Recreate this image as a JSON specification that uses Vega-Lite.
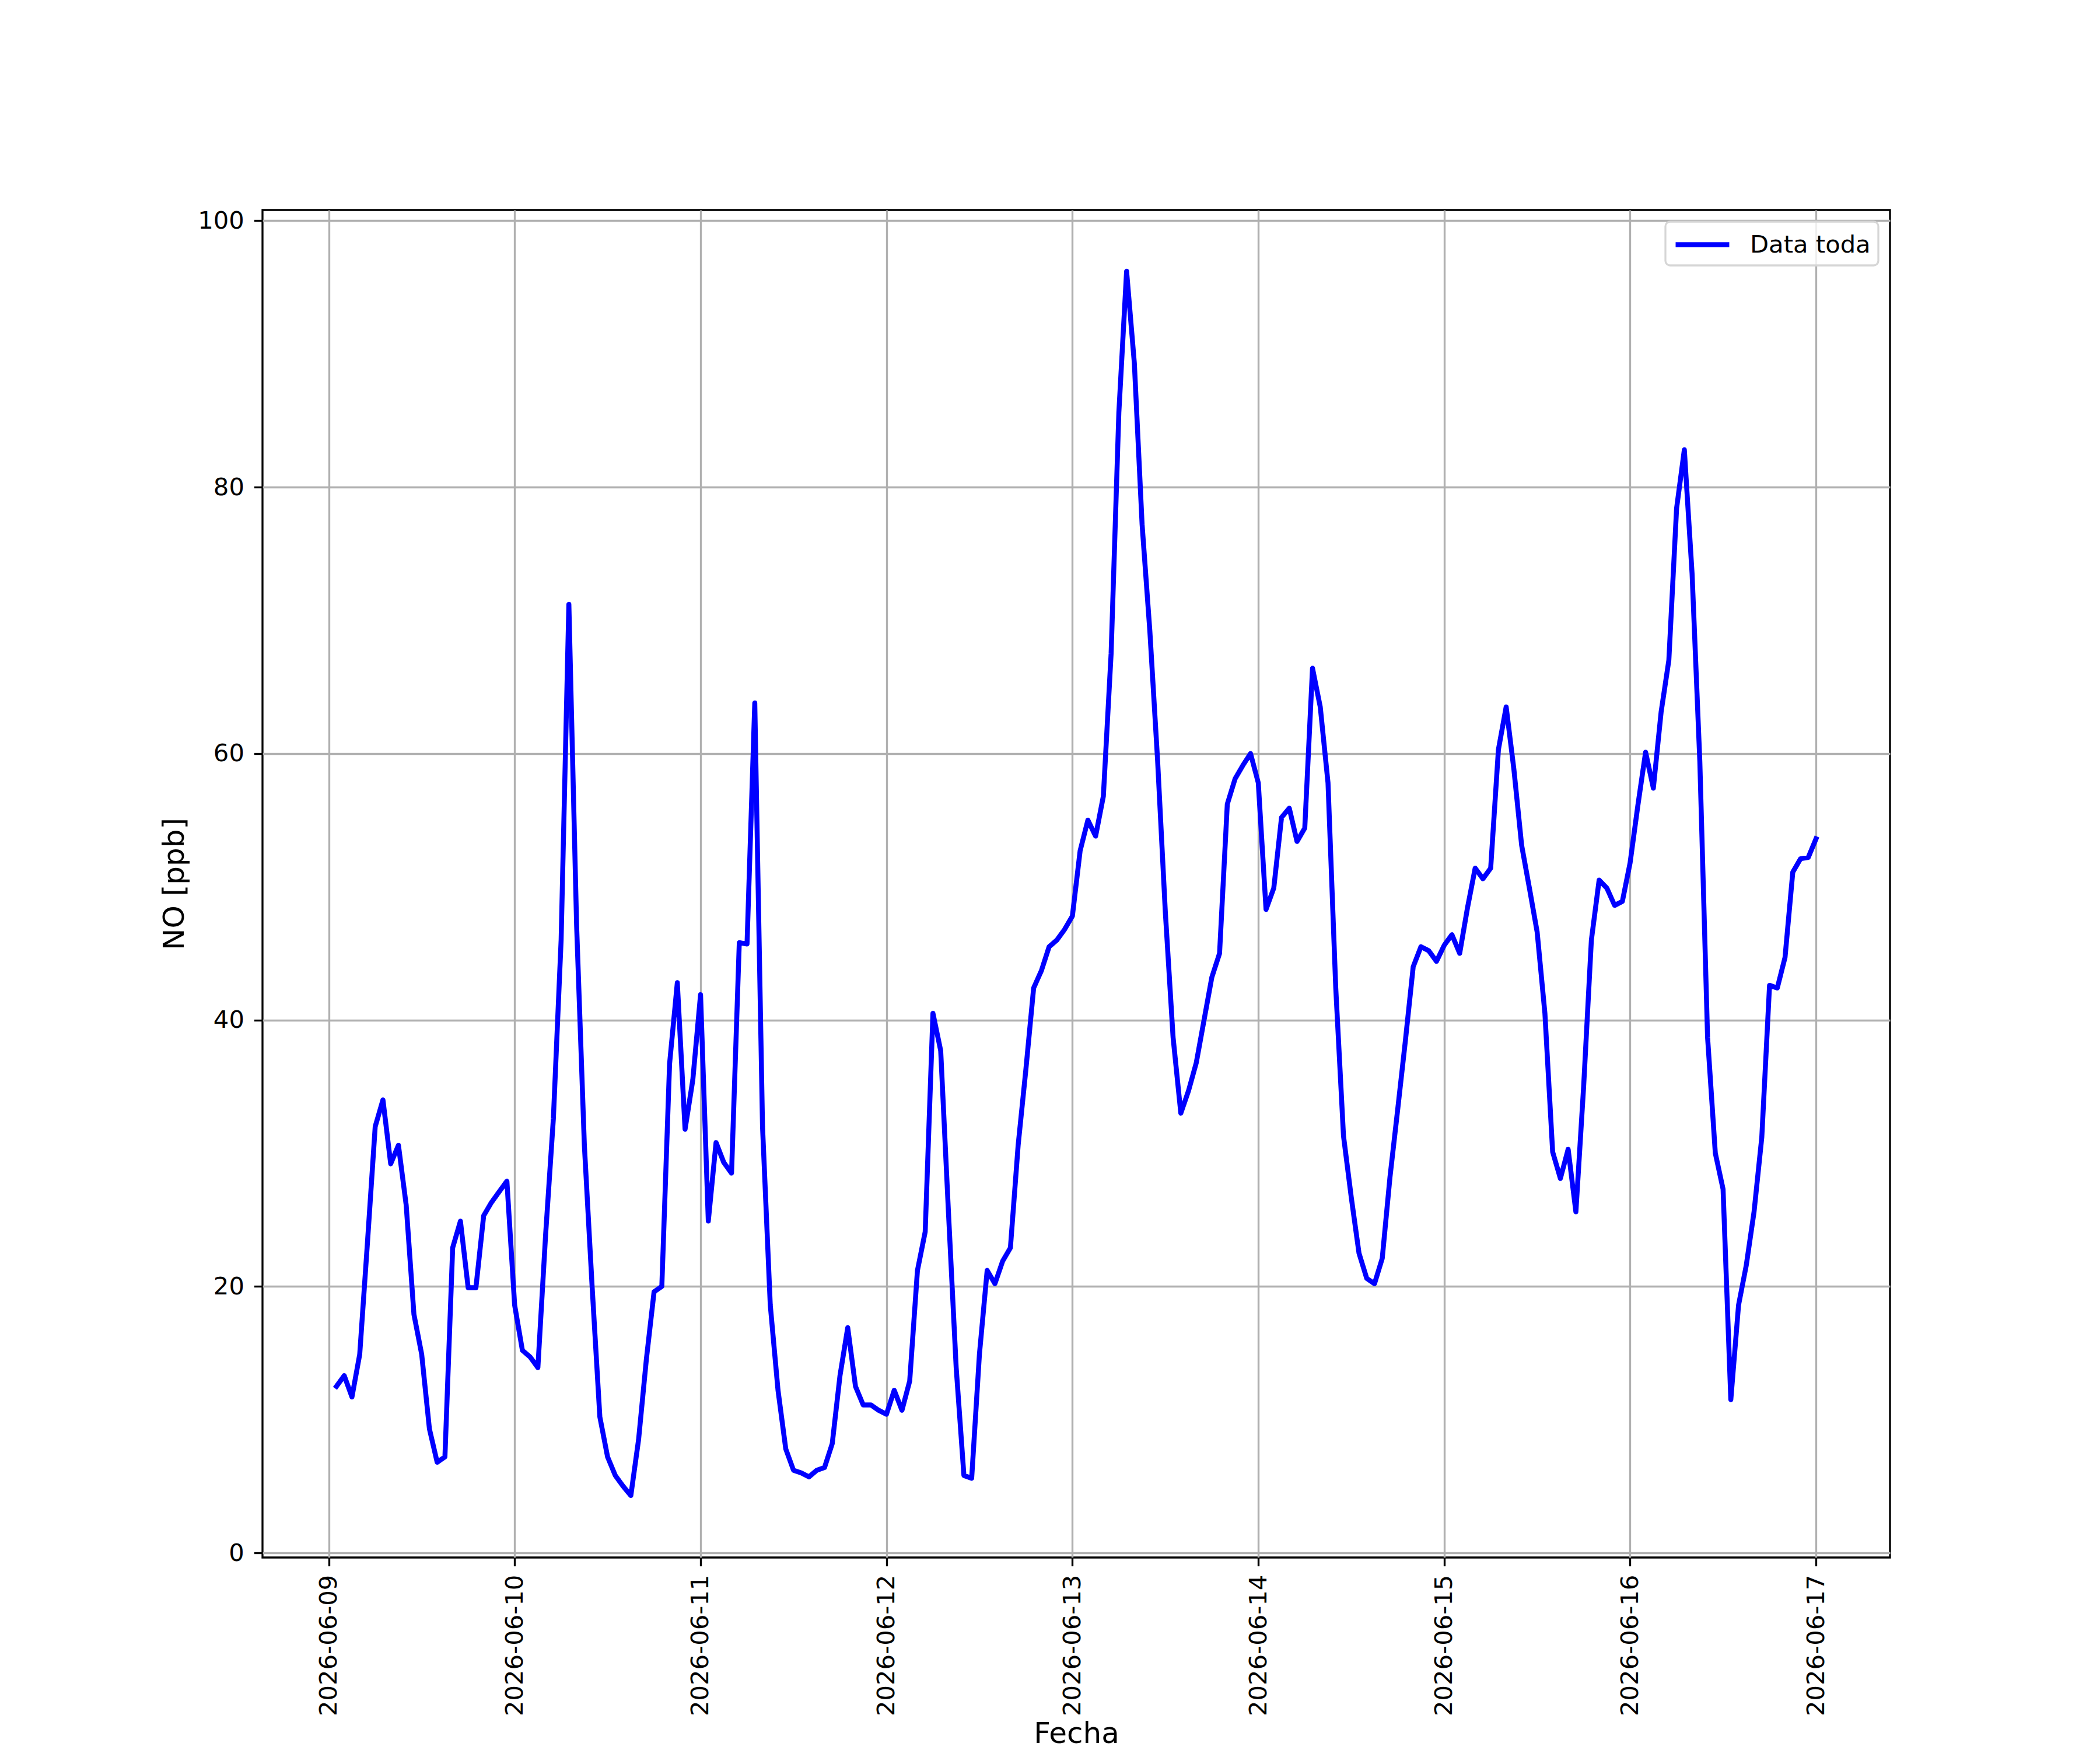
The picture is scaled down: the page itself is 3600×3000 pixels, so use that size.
{
  "$schema": "https://vega.github.io/schema/vega-lite/v6.json",
  "autosize": {"type": "none"},
  "padding": {"left": 450, "top": 360, "right": 360, "bottom": 330},
  "width": 2790,
  "height": 2310,
  "background": "white",
  "config": {
    "font": "DejaVu Sans",
    "view": {"stroke": "black", "strokeWidth": 3.33},
    "axis": {
      "labelFont": "DejaVu Sans",
      "labelFontSize": 41.7,
      "labelColor": "black",
      "labelLimit": 2000,
      "titleFont": "DejaVu Sans",
      "titleFontSize": 50,
      "titleFontWeight": "normal",
      "titleColor": "black",
      "tickSize": 14.6,
      "tickWidth": 3.33,
      "tickColor": "black",
      "labelPadding": 14.6,
      "domain": false,
      "grid": true,
      "gridColor": "#b0b0b0",
      "gridWidth": 3.33
    },
    "legend": {
      "orient": "top-right",
      "offset": 20,
      "title": null,
      "labelFont": "DejaVu Sans",
      "labelFontSize": 41.7,
      "labelColor": "black",
      "labelLimit": 2000,
      "padding": 13,
      "fillColor": "rgba(255,255,255,0.8)",
      "strokeColor": "#d6d6d6",
      "strokeWidth": 3.3,
      "cornerRadius": 8,
      "symbolType": "M-1,0H3.18",
      "symbolSize": 1936,
      "symbolStrokeWidth": 8.5,
      "labelOffset": 79
    }
  },
  "data": {
    "values": [
      {"t": "2026-06-09T01:00:00", "v": 12.5},
      {"t": "2026-06-09T02:00:00", "v": 13.3},
      {"t": "2026-06-09T03:00:00", "v": 11.7},
      {"t": "2026-06-09T04:00:00", "v": 14.9},
      {"t": "2026-06-09T05:00:00", "v": 23.3},
      {"t": "2026-06-09T06:00:00", "v": 32.0},
      {"t": "2026-06-09T07:00:00", "v": 34.0},
      {"t": "2026-06-09T08:00:00", "v": 29.2},
      {"t": "2026-06-09T09:00:00", "v": 30.6},
      {"t": "2026-06-09T10:00:00", "v": 26.1},
      {"t": "2026-06-09T11:00:00", "v": 17.9},
      {"t": "2026-06-09T12:00:00", "v": 14.9},
      {"t": "2026-06-09T13:00:00", "v": 9.3},
      {"t": "2026-06-09T14:00:00", "v": 6.8},
      {"t": "2026-06-09T15:00:00", "v": 7.2},
      {"t": "2026-06-09T16:00:00", "v": 22.9},
      {"t": "2026-06-09T17:00:00", "v": 24.9},
      {"t": "2026-06-09T18:00:00", "v": 19.9},
      {"t": "2026-06-09T19:00:00", "v": 19.9},
      {"t": "2026-06-09T20:00:00", "v": 25.3},
      {"t": "2026-06-09T21:00:00", "v": 26.3},
      {"t": "2026-06-09T22:00:00", "v": 27.1},
      {"t": "2026-06-09T23:00:00", "v": 27.9},
      {"t": "2026-06-10T00:00:00", "v": 18.6},
      {"t": "2026-06-10T01:00:00", "v": 15.2},
      {"t": "2026-06-10T02:00:00", "v": 14.7},
      {"t": "2026-06-10T03:00:00", "v": 13.9},
      {"t": "2026-06-10T04:00:00", "v": 23.9},
      {"t": "2026-06-10T05:00:00", "v": 32.6},
      {"t": "2026-06-10T06:00:00", "v": 46.0},
      {"t": "2026-06-10T07:00:00", "v": 71.2},
      {"t": "2026-06-10T08:00:00", "v": 47.1},
      {"t": "2026-06-10T09:00:00", "v": 30.6},
      {"t": "2026-06-10T10:00:00", "v": 20.0},
      {"t": "2026-06-10T11:00:00", "v": 10.2},
      {"t": "2026-06-10T12:00:00", "v": 7.2},
      {"t": "2026-06-10T13:00:00", "v": 5.8},
      {"t": "2026-06-10T14:00:00", "v": 5.0},
      {"t": "2026-06-10T15:00:00", "v": 4.3},
      {"t": "2026-06-10T16:00:00", "v": 8.5},
      {"t": "2026-06-10T17:00:00", "v": 14.5},
      {"t": "2026-06-10T18:00:00", "v": 19.6},
      {"t": "2026-06-10T19:00:00", "v": 20.0},
      {"t": "2026-06-10T20:00:00", "v": 36.7},
      {"t": "2026-06-10T21:00:00", "v": 42.8},
      {"t": "2026-06-10T22:00:00", "v": 31.8},
      {"t": "2026-06-10T23:00:00", "v": 35.5},
      {"t": "2026-06-11T00:00:00", "v": 41.9},
      {"t": "2026-06-11T01:00:00", "v": 24.9},
      {"t": "2026-06-11T02:00:00", "v": 30.8},
      {"t": "2026-06-11T03:00:00", "v": 29.3},
      {"t": "2026-06-11T04:00:00", "v": 28.5},
      {"t": "2026-06-11T05:00:00", "v": 45.8},
      {"t": "2026-06-11T06:00:00", "v": 45.7},
      {"t": "2026-06-11T07:00:00", "v": 63.8},
      {"t": "2026-06-11T08:00:00", "v": 32.0},
      {"t": "2026-06-11T09:00:00", "v": 18.6},
      {"t": "2026-06-11T10:00:00", "v": 12.2},
      {"t": "2026-06-11T11:00:00", "v": 7.8},
      {"t": "2026-06-11T12:00:00", "v": 6.2},
      {"t": "2026-06-11T13:00:00", "v": 6.0},
      {"t": "2026-06-11T14:00:00", "v": 5.7},
      {"t": "2026-06-11T15:00:00", "v": 6.2},
      {"t": "2026-06-11T16:00:00", "v": 6.4},
      {"t": "2026-06-11T17:00:00", "v": 8.2},
      {"t": "2026-06-11T18:00:00", "v": 13.3},
      {"t": "2026-06-11T19:00:00", "v": 16.9},
      {"t": "2026-06-11T20:00:00", "v": 12.5},
      {"t": "2026-06-11T21:00:00", "v": 11.1},
      {"t": "2026-06-11T22:00:00", "v": 11.1},
      {"t": "2026-06-11T23:00:00", "v": 10.7},
      {"t": "2026-06-12T00:00:00", "v": 10.4},
      {"t": "2026-06-12T01:00:00", "v": 12.2},
      {"t": "2026-06-12T02:00:00", "v": 10.7},
      {"t": "2026-06-12T03:00:00", "v": 12.9},
      {"t": "2026-06-12T04:00:00", "v": 21.2},
      {"t": "2026-06-12T05:00:00", "v": 24.1},
      {"t": "2026-06-12T06:00:00", "v": 40.5},
      {"t": "2026-06-12T07:00:00", "v": 37.7},
      {"t": "2026-06-12T08:00:00", "v": 25.6},
      {"t": "2026-06-12T09:00:00", "v": 13.9},
      {"t": "2026-06-12T10:00:00", "v": 5.8},
      {"t": "2026-06-12T11:00:00", "v": 5.6},
      {"t": "2026-06-12T12:00:00", "v": 14.9},
      {"t": "2026-06-12T13:00:00", "v": 21.2},
      {"t": "2026-06-12T14:00:00", "v": 20.2},
      {"t": "2026-06-12T15:00:00", "v": 21.9},
      {"t": "2026-06-12T16:00:00", "v": 22.9},
      {"t": "2026-06-12T17:00:00", "v": 30.6},
      {"t": "2026-06-12T18:00:00", "v": 36.3},
      {"t": "2026-06-12T19:00:00", "v": 42.4},
      {"t": "2026-06-12T20:00:00", "v": 43.7},
      {"t": "2026-06-12T21:00:00", "v": 45.5},
      {"t": "2026-06-12T22:00:00", "v": 46.0},
      {"t": "2026-06-12T23:00:00", "v": 46.8},
      {"t": "2026-06-13T00:00:00", "v": 47.8},
      {"t": "2026-06-13T01:00:00", "v": 52.7},
      {"t": "2026-06-13T02:00:00", "v": 55.0},
      {"t": "2026-06-13T03:00:00", "v": 53.8},
      {"t": "2026-06-13T04:00:00", "v": 56.8},
      {"t": "2026-06-13T05:00:00", "v": 67.5},
      {"t": "2026-06-13T06:00:00", "v": 85.6},
      {"t": "2026-06-13T07:00:00", "v": 96.2},
      {"t": "2026-06-13T08:00:00", "v": 89.3},
      {"t": "2026-06-13T09:00:00", "v": 77.2},
      {"t": "2026-06-13T10:00:00", "v": 69.2},
      {"t": "2026-06-13T11:00:00", "v": 59.5},
      {"t": "2026-06-13T12:00:00", "v": 48.1},
      {"t": "2026-06-13T13:00:00", "v": 38.7},
      {"t": "2026-06-13T14:00:00", "v": 33.0},
      {"t": "2026-06-13T15:00:00", "v": 34.7},
      {"t": "2026-06-13T16:00:00", "v": 36.8},
      {"t": "2026-06-13T17:00:00", "v": 40.0},
      {"t": "2026-06-13T18:00:00", "v": 43.2},
      {"t": "2026-06-13T19:00:00", "v": 45.0},
      {"t": "2026-06-13T20:00:00", "v": 56.2},
      {"t": "2026-06-13T21:00:00", "v": 58.1},
      {"t": "2026-06-13T22:00:00", "v": 59.1},
      {"t": "2026-06-13T23:00:00", "v": 60.0},
      {"t": "2026-06-14T00:00:00", "v": 57.8},
      {"t": "2026-06-14T01:00:00", "v": 48.3},
      {"t": "2026-06-14T02:00:00", "v": 49.9},
      {"t": "2026-06-14T03:00:00", "v": 55.2},
      {"t": "2026-06-14T04:00:00", "v": 55.9},
      {"t": "2026-06-14T05:00:00", "v": 53.4},
      {"t": "2026-06-14T06:00:00", "v": 54.4},
      {"t": "2026-06-14T07:00:00", "v": 66.4},
      {"t": "2026-06-14T08:00:00", "v": 63.5},
      {"t": "2026-06-14T09:00:00", "v": 57.8},
      {"t": "2026-06-14T10:00:00", "v": 42.4},
      {"t": "2026-06-14T11:00:00", "v": 31.3},
      {"t": "2026-06-14T12:00:00", "v": 26.7},
      {"t": "2026-06-14T13:00:00", "v": 22.5},
      {"t": "2026-06-14T14:00:00", "v": 20.6},
      {"t": "2026-06-14T15:00:00", "v": 20.2},
      {"t": "2026-06-14T16:00:00", "v": 22.1},
      {"t": "2026-06-14T17:00:00", "v": 28.2},
      {"t": "2026-06-14T18:00:00", "v": 33.3},
      {"t": "2026-06-14T19:00:00", "v": 38.5},
      {"t": "2026-06-14T20:00:00", "v": 44.0},
      {"t": "2026-06-14T21:00:00", "v": 45.5},
      {"t": "2026-06-14T22:00:00", "v": 45.2},
      {"t": "2026-06-14T23:00:00", "v": 44.4},
      {"t": "2026-06-15T00:00:00", "v": 45.6},
      {"t": "2026-06-15T01:00:00", "v": 46.4},
      {"t": "2026-06-15T02:00:00", "v": 45.0},
      {"t": "2026-06-15T03:00:00", "v": 48.4},
      {"t": "2026-06-15T04:00:00", "v": 51.4},
      {"t": "2026-06-15T05:00:00", "v": 50.6},
      {"t": "2026-06-15T06:00:00", "v": 51.4},
      {"t": "2026-06-15T07:00:00", "v": 60.3},
      {"t": "2026-06-15T08:00:00", "v": 63.5},
      {"t": "2026-06-15T09:00:00", "v": 58.8},
      {"t": "2026-06-15T10:00:00", "v": 53.1},
      {"t": "2026-06-15T11:00:00", "v": 49.9},
      {"t": "2026-06-15T12:00:00", "v": 46.6},
      {"t": "2026-06-15T13:00:00", "v": 40.5},
      {"t": "2026-06-15T14:00:00", "v": 30.1},
      {"t": "2026-06-15T15:00:00", "v": 28.1},
      {"t": "2026-06-15T16:00:00", "v": 30.3},
      {"t": "2026-06-15T17:00:00", "v": 25.6},
      {"t": "2026-06-15T18:00:00", "v": 35.0},
      {"t": "2026-06-15T19:00:00", "v": 46.0},
      {"t": "2026-06-15T20:00:00", "v": 50.5},
      {"t": "2026-06-15T21:00:00", "v": 49.9},
      {"t": "2026-06-15T22:00:00", "v": 48.6},
      {"t": "2026-06-15T23:00:00", "v": 48.9},
      {"t": "2026-06-16T00:00:00", "v": 51.8},
      {"t": "2026-06-16T01:00:00", "v": 56.1},
      {"t": "2026-06-16T02:00:00", "v": 60.1},
      {"t": "2026-06-16T03:00:00", "v": 57.4},
      {"t": "2026-06-16T04:00:00", "v": 63.1},
      {"t": "2026-06-16T05:00:00", "v": 67.0},
      {"t": "2026-06-16T06:00:00", "v": 78.4},
      {"t": "2026-06-16T07:00:00", "v": 82.8},
      {"t": "2026-06-16T08:00:00", "v": 73.5},
      {"t": "2026-06-16T09:00:00", "v": 59.4},
      {"t": "2026-06-16T10:00:00", "v": 38.7},
      {"t": "2026-06-16T11:00:00", "v": 30.0},
      {"t": "2026-06-16T12:00:00", "v": 27.3},
      {"t": "2026-06-16T13:00:00", "v": 11.5},
      {"t": "2026-06-16T14:00:00", "v": 18.6},
      {"t": "2026-06-16T15:00:00", "v": 21.6},
      {"t": "2026-06-16T16:00:00", "v": 25.6},
      {"t": "2026-06-16T17:00:00", "v": 31.2},
      {"t": "2026-06-16T18:00:00", "v": 42.6},
      {"t": "2026-06-16T19:00:00", "v": 42.4},
      {"t": "2026-06-16T20:00:00", "v": 44.7},
      {"t": "2026-06-16T21:00:00", "v": 51.1},
      {"t": "2026-06-16T22:00:00", "v": 52.1},
      {"t": "2026-06-16T23:00:00", "v": 52.2},
      {"t": "2026-06-17T00:00:00", "v": 53.6}
    ]
  },
  "mark": {"type": "line", "strokeWidth": 8.5, "strokeJoin": "round", "strokeCap": "square", "clip": true},
  "encoding": {
    "x": {
      "field": "t",
      "type": "temporal",
      "scale": {"domain": ["2026-06-08T15:27:00", "2026-06-17T09:33:00"], "nice": false},
      "axis": {
        "title": "Fecha",
        "format": "%Y-%m-%d",
        "labelAngle": 270,
        "labelAlign": "right",
        "labelBaseline": "middle",
        "tickCount": {"interval": "day", "step": 1},
        "labelOverlap": false,
        "labelFlush": false,
        "titleBaseline": "alphabetic",
        "titleY": 317
      }
    },
    "y": {
      "field": "v",
      "type": "quantitative",
      "scale": {"domain": [-0.35, 100.8], "nice": false, "zero": false},
      "axis": {
        "title": "NO [ppb]",
        "values": [0, 20, 40, 60, 80, 100],
        "labelPadding": 17,
        "titlePadding": 14
      }
    },
    "color": {
      "datum": "Data toda",
      "type": "nominal",
      "scale": {"range": ["#0000ff"]},
      "legend": {"title": null}
    }
  }
}
